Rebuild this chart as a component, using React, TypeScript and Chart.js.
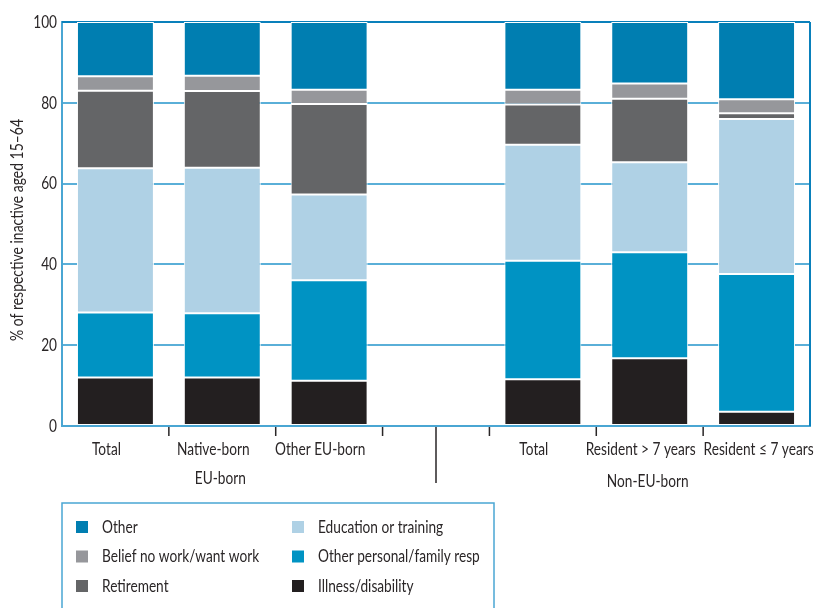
import React, { useEffect, useRef } from "react";
import { Chart, registerables } from "chart.js";

Chart.register(...registerables);

const categories = ["Total", "Native-born", "Other EU-born", "", "Total", "Resident > 7 years", "Resident \u2264 7 years"];
const groupLabels = ["EU-born", "Non-EU-born"];
const groupRanges = [[0, 2], [4, 6]];

const illness = [12.0, 12.0, 11.2, null, 11.6, 16.8, 3.5];
const otherPersonal = [16.1, 15.9, 24.9, null, 29.3, 26.2, 34.1];
const education = [35.7, 36.0, 21.2, null, 28.7, 22.3, 38.4];
const retirement = [19.2, 19.0, 22.4, null, 10.0, 15.7, 1.4];
const belief = [3.6, 3.8, 3.5, null, 3.6, 3.8, 3.5];
const other = [13.4, 13.3, 16.8, null, 16.8, 15.2, 19.1];

const yTicks = [0, 20, 40, 60, 80, 100];

const seriesNames = ["Illness/disability", "Other personal/family resp", "Education or training", "Retirement", "Belief no work/want work", "Other"];
const seriesColors = ["#231f20", "#0093c3", "#afd1e5", "#646567", "#96979b", "#007eb1"];
const legendOrder = [5, 4, 3, 2, 1, 0];

const yTitle = "% of respective inactive aged 15\u201364";
const FONT = "Lato, 'Noto Sans', sans-serif";
const TEXT = "#2a2627";
const GRID = "#5aafd8";
const FRAME = "#4aa6d3";
const FRAME_DARK = "#0a80bb";

function drawText(ctx: any, text: string, x: number, y: number, align: string, sx: number) {
  ctx.save();
  ctx.translate(x, y);
  ctx.scale(sx, 1);
  ctx.textAlign = align;
  ctx.textBaseline = "middle";
  ctx.fillText(text, 0, 0);
  ctx.restore();
}

const overlay = {
  id: "overlay",
  beforeDatasetsDraw(chart: any) {
    const { ctx, chartArea } = chart;
    ctx.save();
    ctx.strokeStyle = FRAME_DARK;
    ctx.lineWidth = 2;
    ctx.beginPath();
    ctx.moveTo(chartArea.left, chartArea.top);
    ctx.lineTo(chartArea.right, chartArea.top);
    ctx.moveTo(chartArea.right, chartArea.top);
    ctx.lineTo(chartArea.right, chartArea.bottom);
    ctx.stroke();
    ctx.restore();
  },
  afterDraw(chart: any) {
    const { ctx, chartArea, scales } = chart;
    const xs = scales.x;
    const ys = scales.y;
    const bottom = chartArea.bottom;
    ctx.save();
    // tick marks between categories
    ctx.strokeStyle = TEXT;
    ctx.lineWidth = 1.5;
    ctx.beginPath();
    for (let i = 0; i < categories.length - 1; i++) {
      const x = (xs.getPixelForValue(i) + xs.getPixelForValue(i + 1)) / 2;
      ctx.moveTo(x, bottom + 1);
      ctx.lineTo(x, bottom + 10);
    }
    const sepX = xs.getPixelForValue(3);
    ctx.moveTo(sepX, bottom + 1);
    ctx.lineTo(sepX, bottom + 57);
    ctx.stroke();

    ctx.fillStyle = TEXT;
    ctx.font = `18px ${FONT}`;
    const sx = 110 / ctx.measureText("Resident > 7 years").width;

    // y tick labels
    yTicks.forEach((v) => {
      drawText(ctx, String(v), chartArea.left - 5, ys.getPixelForValue(v), "right", sx);
    });

    // category labels
    categories.forEach((c, i) => {
      if (!c) return;
      const shift = i < categories.length - 1 ? -9 : 2;
      drawText(ctx, c, xs.getPixelForValue(i) + shift, bottom + 23, "center", sx);
    });
    groupLabels.forEach((g, k) => {
      const [a, b] = groupRanges[k];
      const x = (xs.getPixelForValue(a) + xs.getPixelForValue(b)) / 2;
      drawText(ctx, g, x - 2, bottom + 52 + k * 3, "center", sx);
    });

    // y title
    ctx.font = `17px ${FONT}`;
    const tx = 222 / ctx.measureText(yTitle).width;
    ctx.save();
    ctx.translate(18, (chartArea.top + chartArea.bottom) / 2 + 6);
    ctx.rotate(-Math.PI / 2);
    drawText(ctx, yTitle, 0, 0, "center", tx);
    ctx.restore();

    // legend box
    ctx.font = `18px ${FONT}`;
    const lx = 62, ly = 503;
    ctx.strokeStyle = FRAME;
    ctx.lineWidth = 1.5;
    ctx.strokeRect(lx, ly, 432, 130);
    legendOrder.forEach((si, k) => {
      const col = Math.floor(k / 3);
      const row = k % 3;
      const bx = col === 0 ? 76 : 292;
      const cy = 527 + row * 29.5;
      ctx.fillStyle = seriesColors[si];
      ctx.fillRect(bx, cy - 6, 12, 12);
      ctx.fillStyle = TEXT;
      drawText(ctx, seriesNames[si], bx + 26, cy, "left", sx);
    });
    ctx.restore();
  },
};

export default function App() {
  const ref = useRef<HTMLCanvasElement | null>(null);
  useEffect(() => {
    if (!ref.current) return;
    const data = [illness, otherPersonal, education, retirement, belief, other];
    const chart = new Chart(ref.current, {
      type: "bar",
      data: {
        labels: categories,
        datasets: data.map((d, i) => ({
          label: seriesNames[i],
          data: d as any,
          backgroundColor: seriesColors[i],
          borderColor: "#ffffff",
          borderWidth: 1,
          borderSkipped: false,
          barPercentage: 0.72,
          categoryPercentage: 1,
        })),
      },
      options: {
        animation: false,
        responsive: false,
        devicePixelRatio: 1,
        layout: { padding: { top: 22, right: 4, left: 0, bottom: 0 } },
        plugins: { legend: { display: false }, tooltip: { enabled: false } },
        scales: {
          x: {
            stacked: true,
            offset: true,
            grid: { display: false },
            border: { display: true, color: FRAME, width: 2 },
            ticks: { display: false },
            afterFit: (s: any) => { s.height = 182; },
          },
          y: {
            stacked: true,
            min: 0,
            max: 100,
            ticks: { stepSize: 20, display: false },
            grid: { color: GRID, lineWidth: 2, drawTicks: false },
            border: { display: true, color: FRAME, width: 2 },
            afterFit: (s: any) => { s.width = 62; },
          },
        },
      },
      plugins: [overlay],
    });
    return () => chart.destroy();
  }, []);
  return (
    <div style={{ position: "absolute", left: 0, top: 0, width: 814, height: 608, background: "#fff" }}>
      <canvas ref={ref} width={814} height={608} />
    </div>
  );
}
